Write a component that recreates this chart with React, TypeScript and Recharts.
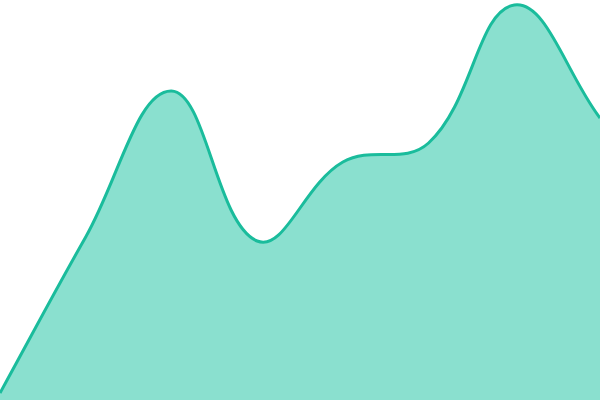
import { AreaChart, Area, XAxis, YAxis } from 'recharts';

const labels = ['A', 'B', 'C', 'D', 'E', 'F', 'G', 'H'];
const values = [7, 163, 309, 159, 238, 257, 395, 282];

const data = labels.map((label, i) => ({ label, value: values[i] }));

const WIDTH = 600;
const HEIGHT = 400;

type Pt = [number, number];

// spline with tension like the usual canvas chart libs, control points capped to the plot box
function tensionCurve(t: number) {
  return (ctx: any) => {
    let pts: Pt[] = [];
    let line = NaN;
    const cap = (v: number, lo: number, hi: number) => Math.max(lo, Math.min(hi, v));
    const controls = (prev: Pt, cur: Pt, next: Pt) => {
      const d01 = Math.hypot(cur[0] - prev[0], cur[1] - prev[1]);
      const d12 = Math.hypot(next[0] - cur[0], next[1] - cur[1]);
      let s01 = d01 / (d01 + d12);
      let s12 = d12 / (d01 + d12);
      if (isNaN(s01)) s01 = 0;
      if (isNaN(s12)) s12 = 0;
      const fa = t * s01;
      const fb = t * s12;
      const before: Pt = [
        cap(cur[0] - fa * (next[0] - prev[0]), 0, WIDTH),
        cap(cur[1] - fa * (next[1] - prev[1]), 0, HEIGHT),
      ];
      const after: Pt = [
        cap(cur[0] + fb * (next[0] - prev[0]), 0, WIDTH),
        cap(cur[1] + fb * (next[1] - prev[1]), 0, HEIGHT),
      ];
      return { before, after };
    };
    return {
      areaStart() {
        line = 0;
      },
      areaEnd() {
        line = NaN;
      },
      lineStart() {
        pts = [];
      },
      lineEnd() {
        const n = pts.length;
        if (n) {
          if (line) ctx.lineTo(pts[0][0], pts[0][1]);
          else ctx.moveTo(pts[0][0], pts[0][1]);
          const cps = pts.map((p, i) => controls(pts[i - 1] || p, p, pts[i + 1] || p));
          for (let i = 1; i < n; i++) {
            const a = cps[i - 1].after;
            const b = cps[i].before;
            ctx.bezierCurveTo(a[0], a[1], b[0], b[1], pts[i][0], pts[i][1]);
          }
        }
        if (line || (line !== 0 && n === 1)) ctx.closePath();
        line = 1 - line;
      },
      point(x: number, y: number) {
        pts.push([+x, +y]);
      },
    };
  };
}

const curve = tensionCurve(0.4);

export default function App() {
  return (
    <div style={{ width: WIDTH, height: HEIGHT }}>
      <style>{'body { margin: 0; }'}</style>
      <AreaChart width={WIDTH} height={HEIGHT} data={data} margin={{ top: 0, right: 0, bottom: 0, left: 0 }}>
        <XAxis dataKey="label" hide />
        <YAxis domain={[0, 400]} hide />
        <Area
          type={curve as any}
          dataKey="value"
          stroke="#1abc9c"
          strokeWidth={3}
          fill="#8ae0cf"
          fillOpacity={1}
          dot={false}
          activeDot={false}
          isAnimationActive={false}
        />
      </AreaChart>
    </div>
  );
}
